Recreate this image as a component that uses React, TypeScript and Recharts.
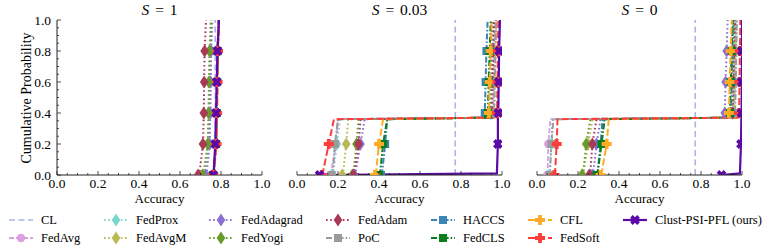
import React from 'react';
import { LineChart, Line, XAxis, YAxis } from 'recharts';

// ---------- data ----------
// cumulative probability levels at which the accuracy quantiles are read
const cdfLevels = [0, 0.01, 0.2, 0.36, 0.37, 0.4, 0.6, 0.8, 1.0];
const markerLevelIdx = [0, 2, 5, 6, 7];
const panelTitles = ['1', '0.03', '0'];
const allTicks = [0, 0.05, 0.1, 0.15, 0.2, 0.25, 0.3, 0.35, 0.4, 0.45, 0.5, 0.55, 0.6, 0.65, 0.7, 0.75, 0.8, 0.85, 0.9, 0.95, 1.0];
const methodNames = ['CL', 'FedAvg', 'FedProx', 'FedAvgM', 'FedAdagrad', 'FedYogi', 'FedAdam', 'PoC', 'HACCS', 'FedCLS', 'CFL', 'FedSoft', 'Clust-PSI-PFL (ours)'];

// S = 1
const s1CL = [0.772, 0.772, 0.772, 0.772, 0.772, 0.772, 0.772, 0.772, 0.772];
const s1FedAvg = [0.765, 0.766, 0.776, 0.778, 0.778, 0.779, 0.781, 0.783, 0.79];
const s1FedProx = [0.72, 0.725, 0.742, 0.745, 0.745, 0.746, 0.748, 0.75, 0.755];
const s1FedAvgM = [0.715, 0.72, 0.738, 0.741, 0.741, 0.742, 0.744, 0.747, 0.752];
const s1FedAdagrad = [0.725, 0.73, 0.745, 0.747, 0.747, 0.748, 0.75, 0.752, 0.758];
const s1FedYogi = [0.71, 0.715, 0.735, 0.738, 0.738, 0.739, 0.741, 0.744, 0.75];
const s1FedAdam = [0.688, 0.695, 0.712, 0.715, 0.715, 0.716, 0.718, 0.72, 0.727];
const s1PoC = [0.76, 0.762, 0.775, 0.777, 0.777, 0.778, 0.78, 0.782, 0.788];
const s1HACCS = [0.762, 0.765, 0.777, 0.779, 0.779, 0.78, 0.782, 0.784, 0.79];
const s1FedCLS = [0.76, 0.763, 0.776, 0.778, 0.778, 0.779, 0.781, 0.783, 0.789];
const s1CFL = [0.763, 0.765, 0.777, 0.779, 0.779, 0.78, 0.782, 0.784, 0.79];
const s1FedSoft = [0.762, 0.764, 0.778, 0.78, 0.78, 0.781, 0.783, 0.785, 0.79];
const s1Clust = [0.763, 0.764, 0.772, 0.775, 0.775, 0.776, 0.779, 0.783, 0.79];

// S = 0.03
const s2CL = [0.772, 0.772, 0.772, 0.772, 0.772, 0.772, 0.772, 0.772, 0.772];
const s2FedAvg = [0.16, 0.165, 0.19, 0.2, 0.955, 0.956, 0.96, 0.962, 0.965];
const s2FedProx = [0.17, 0.175, 0.195, 0.21, 0.95, 0.951, 0.955, 0.958, 0.962];
const s2FedAvgM = [0.22, 0.225, 0.24, 0.25, 0.96, 0.962, 0.965, 0.968, 0.972];
const s2FedAdagrad = [0.28, 0.285, 0.31, 0.33, 0.945, 0.946, 0.95, 0.953, 0.957];
const s2FedYogi = [0.27, 0.275, 0.29, 0.3, 0.94, 0.941, 0.945, 0.948, 0.952];
const s2FedAdam = [0.275, 0.28, 0.3, 0.31, 0.95, 0.951, 0.955, 0.958, 0.962];
const s2PoC = [0.17, 0.175, 0.185, 0.2, 0.96, 0.961, 0.965, 0.968, 0.972];
const s2HACCS = [0.41, 0.415, 0.43, 0.44, 0.915, 0.916, 0.92, 0.924, 0.93];
const s2FedCLS = [0.4, 0.405, 0.42, 0.44, 0.93, 0.931, 0.935, 0.94, 0.945];
const s2CFL = [0.38, 0.385, 0.4, 0.42, 0.935, 0.936, 0.94, 0.945, 0.95];
const s2FedSoft = [0.12, 0.125, 0.155, 0.18, 0.975, 0.976, 0.978, 0.98, 0.982];
const s2Clust = [0.11, 0.975, 0.98, 0.98, 0.98, 0.982, 0.984, 0.986, 0.99];

// S = 0
const s3CL = [0.772, 0.772, 0.772, 0.772, 0.772, 0.772, 0.772, 0.772, 0.772];
const s3FedAvg = [0.05, 0.052, 0.055, 0.065, 0.955, 0.956, 0.96, 0.963, 0.967];
const s3FedProx = [0.06, 0.062, 0.07, 0.075, 0.96, 0.961, 0.965, 0.968, 0.97];
const s3FedAvgM = [0.22, 0.225, 0.25, 0.27, 0.96, 0.962, 0.965, 0.97, 0.975];
const s3FedAdagrad = [0.27, 0.275, 0.29, 0.31, 0.915, 0.916, 0.92, 0.925, 0.93];
const s3FedYogi = [0.22, 0.225, 0.24, 0.26, 0.95, 0.951, 0.955, 0.958, 0.962];
const s3FedAdam = [0.255, 0.26, 0.27, 0.29, 0.955, 0.956, 0.96, 0.963, 0.967];
const s3PoC = [0.06, 0.063, 0.07, 0.08, 0.965, 0.966, 0.97, 0.972, 0.975];
const s3HACCS = [0.29, 0.295, 0.31, 0.32, 0.945, 0.946, 0.95, 0.953, 0.957];
const s3FedCLS = [0.29, 0.295, 0.315, 0.33, 0.94, 0.941, 0.945, 0.95, 0.955];
const s3CFL = [0.31, 0.315, 0.34, 0.35, 0.935, 0.936, 0.94, 0.945, 0.95];
const s3FedSoft = [0.085, 0.088, 0.096, 0.1, 0.985, 0.986, 0.988, 0.99, 0.992];
const s3Clust = [0.9, 0.99, 0.995, 0.997, 0.997, 0.998, 0.999, 1.0, 1.0];

const panelSeries = [
  [s1CL, s1FedAvg, s1FedProx, s1FedAvgM, s1FedAdagrad, s1FedYogi, s1FedAdam, s1PoC, s1HACCS, s1FedCLS, s1CFL, s1FedSoft, s1Clust],
  [s2CL, s2FedAvg, s2FedProx, s2FedAvgM, s2FedAdagrad, s2FedYogi, s2FedAdam, s2PoC, s2HACCS, s2FedCLS, s2CFL, s2FedSoft, s2Clust],
  [s3CL, s3FedAvg, s3FedProx, s3FedAvgM, s3FedAdagrad, s3FedYogi, s3FedAdam, s3PoC, s3HACCS, s3FedCLS, s3CFL, s3FedSoft, s3Clust],
];

// ---------- styles ----------
type Sty = { color: string; dash?: string; w: number; marker: string };
const DOT = '1.6 2.6';
const DASHDOT = '6 2 1.6 2';
const styles: Sty[] = [
  { color: '#a9b5ea', dash: '6 3.5', w: 1.6, marker: 'none' },
  { color: '#dc9fe0', dash: '5 2', w: 1.8, marker: 'circle' },
  { color: '#7ad6cf', dash: DOT, w: 2, marker: 'diamond' },
  { color: '#b8b855', dash: DOT, w: 2, marker: 'diamond' },
  { color: '#8d6fd4', dash: DOT, w: 2, marker: 'diamond' },
  { color: '#6a9a2a', dash: DOT, w: 2, marker: 'diamond' },
  { color: '#a83a55', dash: DOT, w: 2, marker: 'diamond' },
  { color: '#9b9b9b', dash: DASHDOT, w: 2, marker: 'square' },
  { color: '#3a85b5', dash: DASHDOT, w: 2, marker: 'square' },
  { color: '#0a7d1c', dash: DASHDOT, w: 2, marker: 'square' },
  { color: '#ffab25', dash: '7 3', w: 2, marker: 'plus' },
  { color: '#ff3b3b', dash: '7 3', w: 2, marker: 'plus' },
  { color: '#5c0aa6', w: 2.2, marker: 'x' },
];

const FONT = 'Liberation Serif';
const AX = '#222';

function Marker({ kind, cx, cy, color }: { kind: string; cx: number; cy: number; color: string }) {
  if (kind === 'circle') return <circle cx={cx} cy={cy} r={4.2} fill={color} />;
  if (kind === 'diamond')
    return <polygon points={`${cx},${cy - 6.5} ${cx + 4.3},${cy} ${cx},${cy + 6.5} ${cx - 4.3},${cy}`} fill={color} />;
  if (kind === 'square') return <rect x={cx - 4} y={cy - 4} width={8} height={8} fill={color} />;
  if (kind === 'plus' || kind === 'x') {
    const a = 5, t = 1.9;
    const pts = [
      [-t, -a], [t, -a], [t, -t], [a, -t], [a, t], [t, t], [t, a], [-t, a], [-t, t], [-a, t], [-a, -t], [-t, -t],
    ];
    const rot = kind === 'x' ? 45 : 0;
    return (
      <polygon
        transform={`translate(${cx},${cy}) rotate(${rot})`}
        points={pts.map((p) => p.join(',')).join(' ')}
        fill={color}
      />
    );
  }
  return null;
}

const isMajor = (v: number) => Math.abs(v * 5 - Math.round(v * 5)) < 1e-6;

function BottomTick(props: any) {
  const { x, y, payload } = props;
  const major = isMajor(payload.value);
  return (
    <g>
      <line x1={x} x2={x} y1={y} y2={y - (major ? 4 : 2)} stroke={AX} strokeWidth={0.8} />
      {major && (
        <text x={x} y={y + 12.5} textAnchor="middle" fontSize={13.5} fontFamily={FONT} fill="#000">
          {payload.value.toFixed(1)}
        </text>
      )}
    </g>
  );
}
function TopTick(props: any) {
  const { x, y, payload } = props;
  const major = isMajor(payload.value);
  return <line x1={x} x2={x} y1={y} y2={y + (major ? 4 : 2)} stroke={AX} strokeWidth={0.8} />;
}
function LeftTickLabeled(props: any) {
  const { x, y, payload } = props;
  const major = isMajor(payload.value);
  return (
    <g>
      <line x1={x} x2={x + (major ? 4 : 2)} y1={y} y2={y} stroke={AX} strokeWidth={0.8} />
      {major && (
        <text x={x - 6} y={y + 4.5} textAnchor="end" fontSize={13.5} fontFamily={FONT} fill="#000">
          {payload.value.toFixed(1)}
        </text>
      )}
    </g>
  );
}
function LeftTick(props: any) {
  const { x, y, payload } = props;
  const major = isMajor(payload.value);
  return <line x1={x} x2={x + (major ? 4 : 2)} y1={y} y2={y} stroke={AX} strokeWidth={0.8} />;
}
function RightTick(props: any) {
  const { x, y, payload } = props;
  const major = isMajor(payload.value);
  return <line x1={x} x2={x - (major ? 4 : 2)} y1={y} y2={y} stroke={AX} strokeWidth={0.8} />;
}

function buildPoints(xs: number[]) {
  return xs.map((x, i) => ({ x, y: cdfLevels[i], m: markerLevelIdx.includes(i) }));
}

function Panel({ idx, left, width, mLeft, mRight, yW }: { idx: number; left: number; width: number; mLeft: number; mRight: number; yW: number }) {
  const series = panelSeries[idx];
  return (
    <div style={{ position: 'absolute', left, top: 0 }}>
      <LineChart width={width} height={200} margin={{ top: 20, right: mRight, bottom: 0, left: mLeft }}>
        <XAxis
          xAxisId="b"
          type="number"
          dataKey="x"
          domain={[0, 1]}
          allowDataOverflow
          ticks={allTicks}
          interval={0}
          height={25}
          tickSize={0}
          tickMargin={0}
          tickLine={false}
          axisLine={{ stroke: AX, strokeWidth: 1 }}
          tick={<BottomTick />}
        />
        <XAxis
          xAxisId="t"
          orientation="top"
          type="number"
          dataKey="x"
          domain={[0, 1]}
          allowDataOverflow
          ticks={allTicks}
          interval={0}
          height={0}
          tickSize={0}
          tickMargin={0}
          tickLine={false}
          axisLine={{ stroke: AX, strokeWidth: 1 }}
          tick={<TopTick />}
        />
        <YAxis
          yAxisId="l"
          type="number"
          dataKey="y"
          domain={[0, 1]}
          allowDataOverflow
          ticks={allTicks}
          interval={0}
          width={yW}
          tickSize={0}
          tickMargin={0}
          tickLine={false}
          axisLine={{ stroke: AX, strokeWidth: 1 }}
          tick={idx === 0 ? <LeftTickLabeled /> : <LeftTick />}
        />
        <YAxis
          yAxisId="r"
          orientation="right"
          type="number"
          dataKey="y"
          domain={[0, 1]}
          allowDataOverflow
          ticks={allTicks}
          interval={0}
          width={0}
          tickSize={0}
          tickMargin={0}
          tickLine={false}
          axisLine={{ stroke: AX, strokeWidth: 1 }}
          tick={<RightTick />}
        />
        {series.map((xs, si) => {
          const st = styles[si];
          return (
            <Line
              key={methodNames[si]}
              xAxisId="b"
              yAxisId="l"
              data={buildPoints(xs)}
              dataKey="y"
              type="linear"
              stroke={st.color}
              strokeWidth={st.w}
              strokeDasharray={st.dash}
              isAnimationActive={false}
              activeDot={false}
              dot={(p: any) => {
                if (!p.payload || !p.payload.m || st.marker === 'none') return <g key={`d${si}-${p.index}`} />;
                return (
                  <g key={`d${si}-${p.index}`}>
                    <Marker kind={st.marker} cx={p.cx} cy={p.cy} color={st.color} />
                  </g>
                );
              }}
            />
          );
        })}
      </LineChart>
    </div>
  );
}

function LegendIcon({ st }: { st: Sty }) {
  return (
    <svg width={26} height={14} style={{ position: 'absolute', left: 0, top: -7 }}>
      <line x1={1} x2={25} y1={7} y2={7} stroke={st.color} strokeWidth={st.w} strokeDasharray={st.dash} />
      <Marker kind={st.marker} cx={13} cy={7} color={st.color} />
    </svg>
  );
}

const legendCols = [8, 103, 208, 325, 430, 527, 622];
const legendRows = [220, 237.5];

export default function App() {
  const titleCenters = [159.5, 399.5, 639.5];
  return (
    <div style={{ position: 'absolute', left: 0, top: 0, width: 773, height: 251, background: '#fff', fontFamily: FONT, overflow: 'hidden' }}>
      <Panel idx={0} left={0} width={280} mLeft={22} mRight={18} yW={35} />
      <Panel idx={1} left={282} width={230} mLeft={15} mRight={10} yW={0} />
      <Panel idx={2} left={522} width={230} mLeft={15} mRight={10} yW={0} />
      {titleCenters.map((c, i) => (
        <div key={`t${i}`} style={{ position: 'absolute', left: c, top: 10, transform: 'translate(-50%,-50%)', fontFamily: FONT, fontSize: 15.5, whiteSpace: 'nowrap', wordSpacing: 2 }}>
          <i>S</i> = {panelTitles[i]}
        </div>
      ))}
      {titleCenters.map((c, i) => (
        <div key={`a${i}`} style={{ position: 'absolute', left: c, top: 198.5, transform: 'translate(-50%,-50%)', fontFamily: FONT, fontSize: 13, whiteSpace: 'nowrap' }}>
          Accuracy
        </div>
      ))}
      <div style={{ position: 'absolute', left: 27, top: 97.5, transform: 'translate(-50%,-50%) rotate(-90deg)', fontFamily: FONT, fontSize: 14, whiteSpace: 'nowrap' }}>
        Cumulative Probability
      </div>
      {methodNames.map((name, i) => {
        const col = Math.floor(i / 2);
        const row = i % 2;
        return (
          <div key={name} style={{ position: 'absolute', left: legendCols[col], top: legendRows[row], height: 0 }}>
            <LegendIcon st={styles[i]} />
            <div style={{ position: 'absolute', left: 33, top: 0, transform: 'translateY(-50%)', fontFamily: FONT, fontSize: 12.5, whiteSpace: 'nowrap' }}>{name}</div>
          </div>
        );
      })}
    </div>
  );
}
